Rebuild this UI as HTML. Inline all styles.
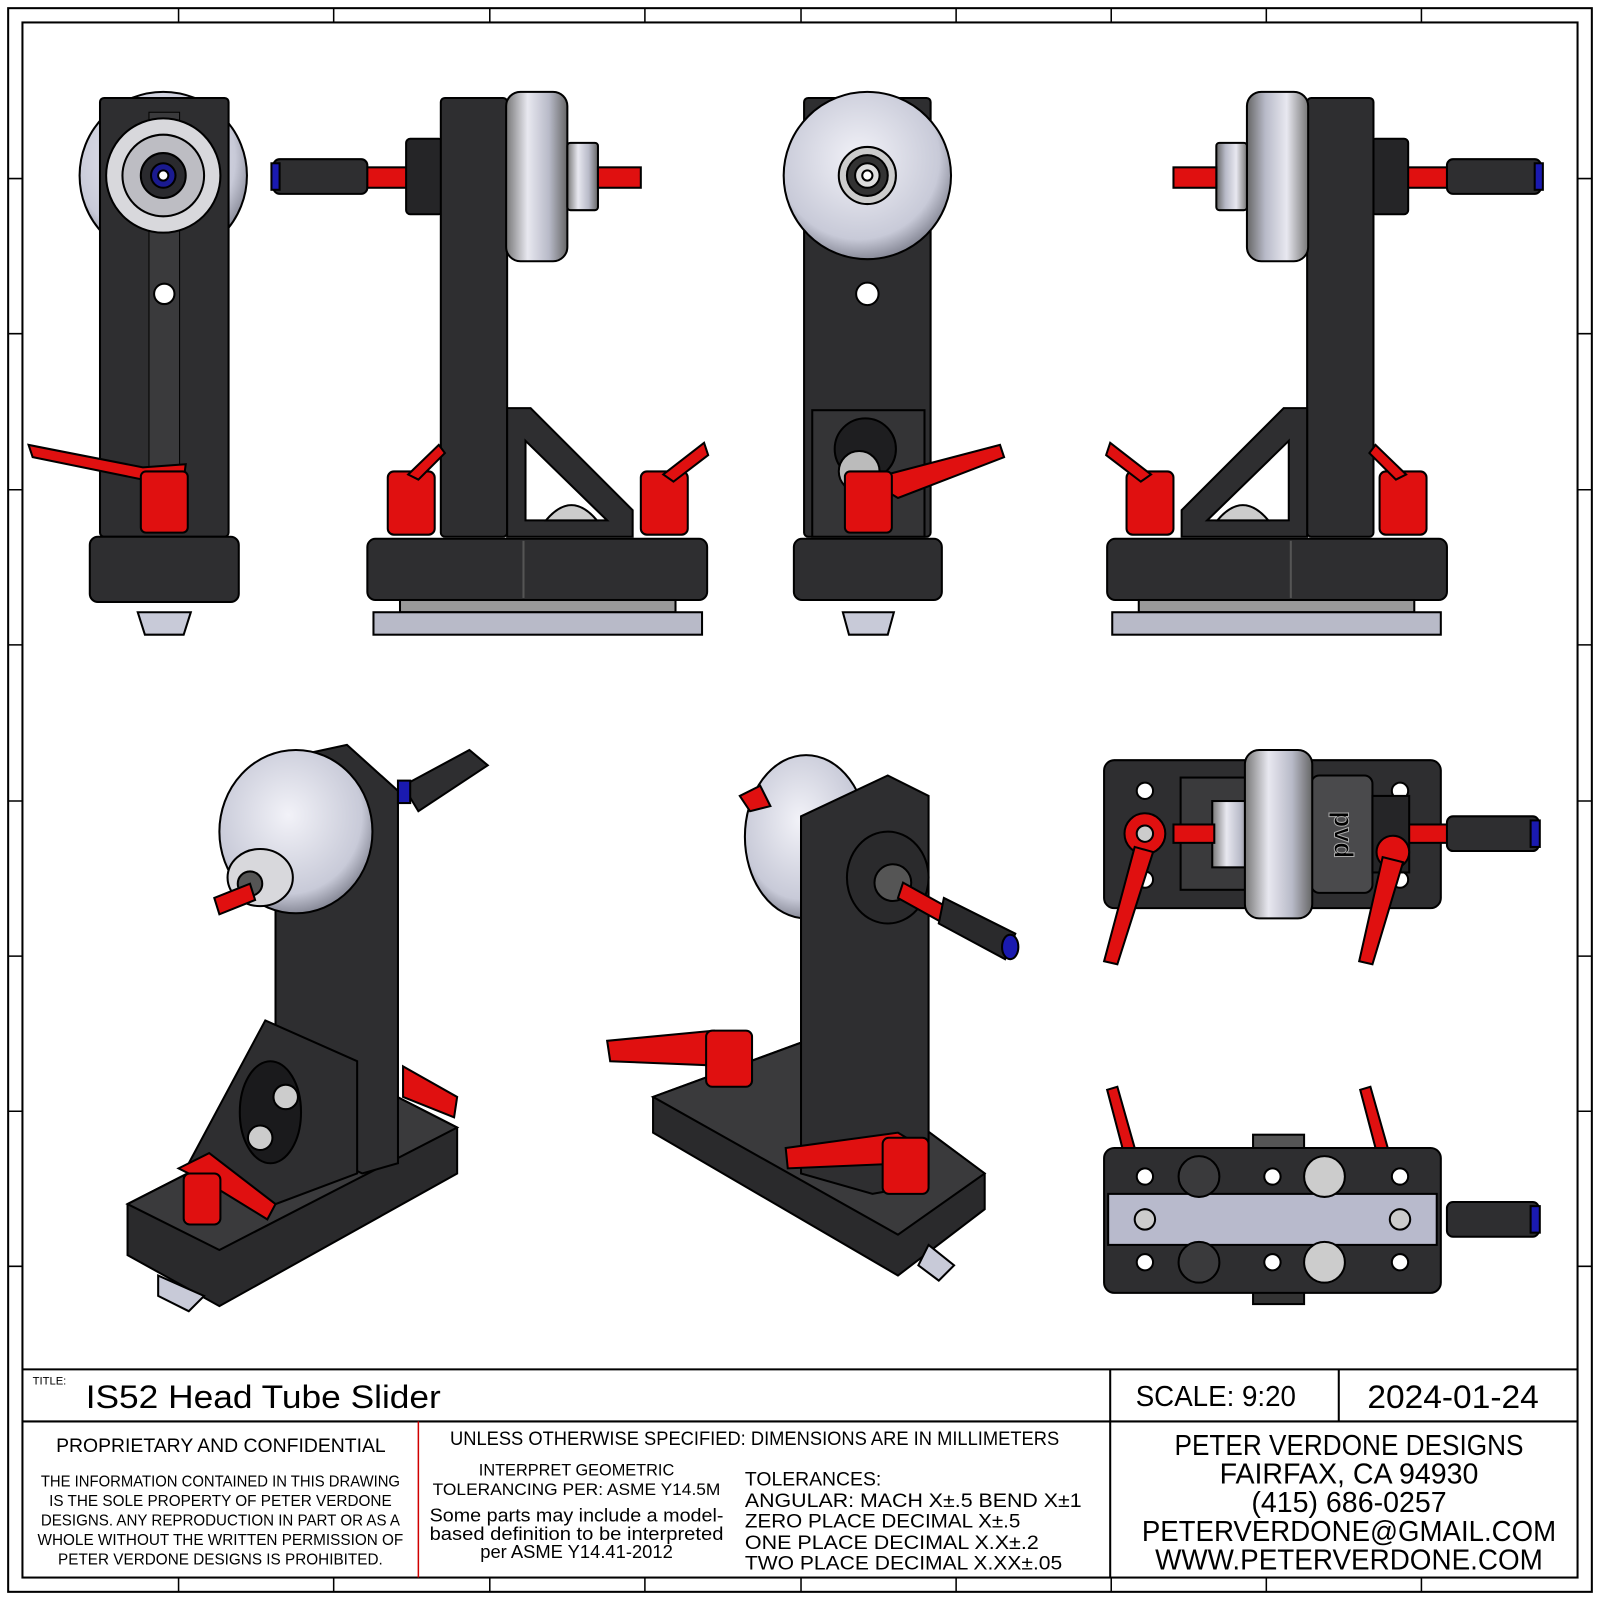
<!DOCTYPE html>
<html><head><meta charset="utf-8"><style>
html,body{margin:0;padding:0;background:#fff}
svg{display:block}
text{font-family:"Liberation Sans",sans-serif;fill:#000}
</style></head><body>
<svg width="1600" height="1600" viewBox="0 0 1568 1568" xmlns="http://www.w3.org/2000/svg">
<defs>
<linearGradient id="sil" x1="0" x2="1" y1="0" y2="0"><stop offset="0" stop-color="#777"/><stop offset=".35" stop-color="#e8e8f0"/><stop offset=".7" stop-color="#b8bac8"/><stop offset="1" stop-color="#666"/></linearGradient>
<radialGradient id="disc" cx=".45" cy=".4" r=".6"><stop offset="0" stop-color="#f2f2f8"/><stop offset=".8" stop-color="#c8cad8"/><stop offset="1" stop-color="#8a8c9a"/></radialGradient>
</defs>
<rect x="0" y="0" width="1568" height="1568" fill="#fff"/>
<!-- borders -->
<rect x="8" y="8" width="1552" height="1552" fill="none" stroke="#000" stroke-width="2"/>
<rect x="22" y="22" width="1524" height="1524" fill="none" stroke="#000" stroke-width="2"/>
<g stroke="#000" stroke-width="1.5">
<path d="M175 8V22M327 8V22M480 8V22M632 8V22M785 8V22M937 8V22M1089 8V22M1241 8V22M1393 8V22"/>
<path d="M175 1546V1560M327 1546V1560M480 1546V1560M632 1546V1560M785 1546V1560M937 1546V1560M1089 1546V1560M1241 1546V1560M1393 1546V1560"/>
<path d="M8 175H22M8 327H22M8 480H22M8 632H22M8 785H22M8 937H22M8 1089H22M8 1241H22"/>
<path d="M1546 175H1560M1546 327H1560M1546 480H1560M1546 632H1560M1546 785H1560M1546 937H1560M1546 1089H1560M1546 1241H1560"/>
</g>

<!-- VIEW 1 -->
<g stroke="#000" stroke-width="2">
<circle cx="160" cy="172" r="82" fill="url(#disc)"/>
<rect x="98" y="96" width="126" height="430" rx="4" fill="#2e2e30"/>
<rect x="146" y="110" width="30" height="410" fill="#3a3a3c" stroke-width="1"/>
<circle cx="160" cy="172" r="56" fill="#d8d8dc"/>
<circle cx="160" cy="172" r="40" fill="#bdbdc3"/>
<circle cx="160" cy="172" r="22" fill="#2a2a2e"/>
<circle cx="160" cy="172" r="12" fill="#1a1a90"/>
<circle cx="160" cy="172" r="5" fill="#fff"/>
<circle cx="161" cy="288" r="10" fill="#fff"/>
<rect x="88" y="526" width="146" height="64" rx="8" fill="#2e2e30"/>
<path d="M135 600H187L180 622H142Z" fill="#c8cad8"/>
<path d="M28 436L32 448L140 470L180 470L182 455L140 458L38 438Z" fill="#e01010"/>
<rect x="138" y="462" width="46" height="60" rx="5" fill="#e01010"/>
</g>

<!-- VIEW 2 -->
<g id="v2" stroke="#000" stroke-width="2">
<rect x="268" y="156" width="92" height="34" rx="6" fill="#2e2e30"/>
<rect x="266" y="160" width="8" height="26" fill="#1a1ab0"/>
<rect x="360" y="164" width="42" height="20" fill="#e01010"/>
<rect x="398" y="136" width="36" height="74" rx="4" fill="#252527"/>
<rect x="432" y="96" width="65" height="430" rx="4" fill="#2e2e30"/>
<path d="M497 400L520 400L620 500L620 526L497 526Z" fill="#2e2e30"/>
<path d="M515 432L595 510H515Z" fill="#fff"/>
<path d="M535 510Q560 480 585 510Z" fill="#ccc"/>
<rect x="496" y="90" width="60" height="166" rx="14" fill="url(#sil)"/>
<rect x="556" y="140" width="30" height="66" rx="3" fill="url(#sil)"/>
<rect x="586" y="164" width="42" height="20" fill="#e01010"/>
<rect x="380" y="462" width="46" height="62" rx="6" fill="#e01010"/>
<path d="M400 465L430 436L436 444L410 470Z" fill="#e01010"/>
<rect x="628" y="462" width="46" height="62" rx="6" fill="#e01010"/>
<path d="M650 465L690 434L694 446L660 472Z" fill="#e01010"/>
<rect x="360" y="528" width="333" height="60" rx="8" fill="#2e2e30"/>
<path d="M513 530V586" stroke="#555"/>
<rect x="392" y="588" width="270" height="12" fill="#999"/>
<rect x="366" y="600" width="322" height="22" fill="#b8bac8"/>
</g>
<!-- VIEW 4 (mirror) -->
<use href="#v2" transform="translate(1778,0) scale(-1,1)"/>

<!-- VIEW 3 -->
<g stroke="#000" stroke-width="2">
<rect x="788" y="96" width="124" height="430" rx="4" fill="#2e2e30"/>
<circle cx="850" cy="172" r="82" fill="url(#disc)"/>
<circle cx="850" cy="172" r="28" fill="#ccc"/>
<circle cx="850" cy="172" r="20" fill="#333"/>
<circle cx="850" cy="172" r="12" fill="#ddd"/>
<circle cx="850" cy="172" r="5" fill="#fff"/>
<circle cx="850" cy="288" r="11" fill="#fff"/>
<rect x="796" y="402" width="110" height="124" fill="#343436"/>
<circle cx="848" cy="440" r="30" fill="#1e1e20"/>
<circle cx="842" cy="462" r="20" fill="#bbb"/>
<path d="M850 470L980 436L984 448L880 488Z" fill="#e01010"/>
<rect x="828" y="462" width="46" height="60" rx="5" fill="#e01010"/>
<rect x="778" y="528" width="145" height="60" rx="8" fill="#2e2e30"/>
<path d="M826 600H876L870 622H832Z" fill="#c8cad8"/>
</g>

<!-- ISO VIEW LEFT -->
<g stroke="#000" stroke-width="2">
<path d="M125 1180L360 1060L448 1105L448 1150L215 1280L125 1230Z" fill="#2a2a2c"/>
<path d="M125 1180L360 1060L448 1105L215 1225Z" fill="#3a3a3c"/>
<path d="M155 1250L200 1270L185 1285L155 1270Z" fill="#c8cad8"/>
<path d="M270 745L340 730L390 775L390 1140L355 1150L270 1110Z" fill="#2e2e30"/>
<path d="M185 1140L260 1000L350 1040L350 1150L270 1180Z" fill="#2e2e30"/>
<ellipse cx="265" cy="1090" rx="30" ry="50" fill="#1a1a1c"/>
<circle cx="280" cy="1075" r="12" fill="#ccc"/>
<circle cx="255" cy="1115" r="12" fill="#ccc"/>
<ellipse cx="290" cy="815" rx="75" ry="80" fill="url(#disc)"/>
<ellipse cx="255" cy="860" rx="32" ry="28" fill="#d8d8dc"/>
<circle cx="245" cy="866" r="12" fill="#555"/>
<path d="M210 880L245 866L250 882L215 896Z" fill="#e01010"/>
<path d="M395 770L460 735L478 750L410 795Z" fill="#2e2e30"/>
<rect x="390" y="765" width="12" height="22" fill="#1a1ab0"/>
<path d="M175 1145L205 1130L270 1180L262 1195L205 1160Z" fill="#e01010"/>
<rect x="180" y="1150" width="36" height="50" rx="6" fill="#e01010"/>
<path d="M395 1045L448 1075L445 1095L395 1075Z" fill="#e01010"/>
</g>

<!-- ISO VIEW CENTER -->
<g stroke="#000" stroke-width="2">
<path d="M640 1075L790 1020L965 1150L965 1185L880 1250L640 1110Z" fill="#2a2a2c"/>
<path d="M640 1075L790 1020L965 1150L880 1210Z" fill="#3a3a3c"/>
<path d="M910 1220L935 1240L920 1255L900 1240Z" fill="#c8cad8"/>
<ellipse cx="790" cy="820" rx="60" ry="80" fill="url(#disc)"/>
<path d="M785 800L870 760L910 780L910 1160L855 1170L785 1150Z" fill="#2e2e30"/>
<ellipse cx="870" cy="860" rx="40" ry="45" fill="#2a2a2c"/>
<circle cx="875" cy="865" r="18" fill="#555"/>
<path d="M885 865L930 890L925 905L880 880Z" fill="#e01010"/>
<path d="M925 880L995 915L985 940L920 905Z" fill="#2a2a2c"/>
<ellipse cx="990" cy="928" rx="8" ry="12" fill="#1a1ab0"/>
<path d="M725 780L745 770L755 790L735 795Z" fill="#e01010"/>
<path d="M595 1020L700 1010L735 1030L720 1045L598 1040Z" fill="#e01010"/>
<rect x="692" y="1010" width="45" height="55" rx="6" fill="#e01010"/>
<path d="M770 1125L880 1110L905 1125L890 1140L772 1145Z" fill="#e01010"/>
<rect x="865" y="1115" width="45" height="55" rx="6" fill="#e01010"/>
</g>

<!-- TOP VIEW (right) -->
<g stroke="#000" stroke-width="2">
<rect x="1082" y="745" width="330" height="145" rx="10" fill="#2e2e30"/>
<circle cx="1122" cy="775" r="8" fill="#fff"/><circle cx="1372" cy="775" r="8" fill="#fff"/>
<circle cx="1122" cy="862" r="8" fill="#fff"/><circle cx="1372" cy="862" r="8" fill="#fff"/>
<rect x="1157" y="762" width="70" height="110" fill="#3a3a3c"/>
<rect x="1285" y="760" width="60" height="115" rx="8" fill="#4a4a4c"/>
<text x="1315" y="825" font-size="26" font-weight="bold" fill="#222" stroke="#aaa" stroke-width="1" text-anchor="middle" transform="rotate(90 1315 818)">pvd</text>
<rect x="1188" y="785" width="40" height="65" fill="url(#sil)"/>
<rect x="1220" y="735" width="66" height="165" rx="14" fill="url(#sil)"/>
<rect x="1150" y="808" width="40" height="18" fill="#e01010"/>
<rect x="1380" y="808" width="40" height="18" fill="#e01010"/>
<rect x="1345" y="780" width="36" height="75" fill="#252527"/>
<rect x="1418" y="800" width="90" height="34" rx="6" fill="#2e2e30"/>
<rect x="1500" y="804" width="9" height="26" fill="#1a1ab0"/>
<circle cx="1122" cy="817" r="20" fill="#e01010"/><circle cx="1122" cy="817" r="8" fill="#ccc"/>
<path d="M1112 830L1130 835L1095 945L1082 942Z" fill="#e01010"/>
<circle cx="1365" cy="835" r="16" fill="#e01010"/>
<path d="M1355 840L1375 845L1345 945L1332 942Z" fill="#e01010"/>
</g>

<!-- BOTTOM VIEW (right) -->
<g stroke="#000" stroke-width="2">
<path d="M1085 1068L1095 1065L1112 1125L1100 1125Z" fill="#e01010"/>
<path d="M1333 1068L1343 1065L1360 1125L1348 1125Z" fill="#e01010"/>
<rect x="1228" y="1112" width="50" height="14" fill="#555"/>
<rect x="1228" y="1266" width="50" height="12" fill="#333"/>
<rect x="1082" y="1125" width="330" height="142" rx="10" fill="#2e2e30"/>
<rect x="1086" y="1170" width="322" height="50" fill="#b8bacc"/>
<g fill="#fff"><circle cx="1122" cy="1153" r="8"/><circle cx="1372" cy="1153" r="8"/><circle cx="1122" cy="1237" r="8"/><circle cx="1372" cy="1237" r="8"/><circle cx="1247" cy="1153" r="8"/><circle cx="1247" cy="1237" r="8"/></g>
<g fill="#3a3a3c"><circle cx="1175" cy="1153" r="20"/><circle cx="1175" cy="1237" r="20"/></g>
<g fill="#ccc"><circle cx="1298" cy="1153" r="20"/><circle cx="1298" cy="1237" r="20"/><circle cx="1122" cy="1195" r="10"/><circle cx="1372" cy="1195" r="10"/></g>
<rect x="1418" y="1178" width="90" height="34" rx="6" fill="#2e2e30"/>
<rect x="1500" y="1182" width="9" height="26" fill="#1a1ab0"/>
</g>

<!-- TITLE BLOCK -->
<g stroke="#000" stroke-width="2" fill="none">
<path d="M22 1342H1546M22 1393H1546M1088 1342V1546M1312 1342V1393"/>
</g>
<path d="M410 1393V1546" stroke="#d00000" stroke-width="1.5"/>
<text x="32" y="1357" font-size="11">TITLE:</text>
<text x="84" y="1380" font-size="32" textLength="348" lengthAdjust="spacingAndGlyphs">IS52 Head Tube Slider</text>
<text x="1113" y="1378" font-size="28" textLength="157" lengthAdjust="spacingAndGlyphs">SCALE: 9:20</text>
<text x="1340" y="1380" font-size="32" textLength="168" lengthAdjust="spacingAndGlyphs">2024-01-24</text>
<text x="55" y="1423" font-size="19" textLength="323" lengthAdjust="spacingAndGlyphs">PROPRIETARY AND CONFIDENTIAL</text>
<g font-size="15" text-anchor="middle">
<text x="216" y="1457" textLength="352" lengthAdjust="spacingAndGlyphs">THE INFORMATION CONTAINED IN THIS DRAWING</text>
<text x="216" y="1476">IS THE SOLE PROPERTY OF PETER VERDONE</text>
<text x="216" y="1495" textLength="352" lengthAdjust="spacingAndGlyphs">DESIGNS.  ANY  REPRODUCTION IN PART OR AS A</text>
<text x="216" y="1514">WHOLE WITHOUT THE WRITTEN PERMISSION OF</text>
<text x="216" y="1533">PETER VERDONE DESIGNS IS PROHIBITED.</text>
</g>
<text x="441" y="1416" font-size="19" textLength="597" lengthAdjust="spacingAndGlyphs">UNLESS OTHERWISE SPECIFIED: DIMENSIONS ARE IN MILLIMETERS</text>
<g font-size="16" text-anchor="middle">
<text x="565" y="1446">INTERPRET GEOMETRIC</text>
<text x="565" y="1465" textLength="282" lengthAdjust="spacingAndGlyphs">TOLERANCING PER: ASME Y14.5M</text>
<text x="565" y="1491" font-size="18" textLength="288" lengthAdjust="spacingAndGlyphs">Some parts may include a model-</text>
<text x="565" y="1509" font-size="18" textLength="288" lengthAdjust="spacingAndGlyphs">based definition to be interpreted</text>
<text x="565" y="1527" font-size="18">per ASME Y14.41-2012</text>
</g>
<g font-size="19">
<text x="730" y="1456">TOLERANCES:</text>
<text x="730" y="1477" textLength="330" lengthAdjust="spacingAndGlyphs">ANGULAR: MACH X±.5   BEND X±1</text>
<text x="730" y="1497" textLength="270" lengthAdjust="spacingAndGlyphs">ZERO PLACE DECIMAL   X±.5</text>
<text x="730" y="1518" textLength="288" lengthAdjust="spacingAndGlyphs">ONE PLACE DECIMAL    X.X±.2</text>
<text x="730" y="1538" textLength="311" lengthAdjust="spacingAndGlyphs">TWO PLACE DECIMAL    X.XX±.05</text>
</g>
<g font-size="28" text-anchor="middle">
<text x="1322" y="1426" textLength="342" lengthAdjust="spacingAndGlyphs">PETER VERDONE DESIGNS</text>
<text x="1322" y="1454">FAIRFAX, CA 94930</text>
<text x="1322" y="1482">(415) 686-0257</text>
<text x="1322" y="1510" textLength="406" lengthAdjust="spacingAndGlyphs">PETERVERDONE@GMAIL.COM</text>
<text x="1322" y="1538" textLength="380" lengthAdjust="spacingAndGlyphs">WWW.PETERVERDONE.COM</text>
</g>
</svg>
</body></html>
